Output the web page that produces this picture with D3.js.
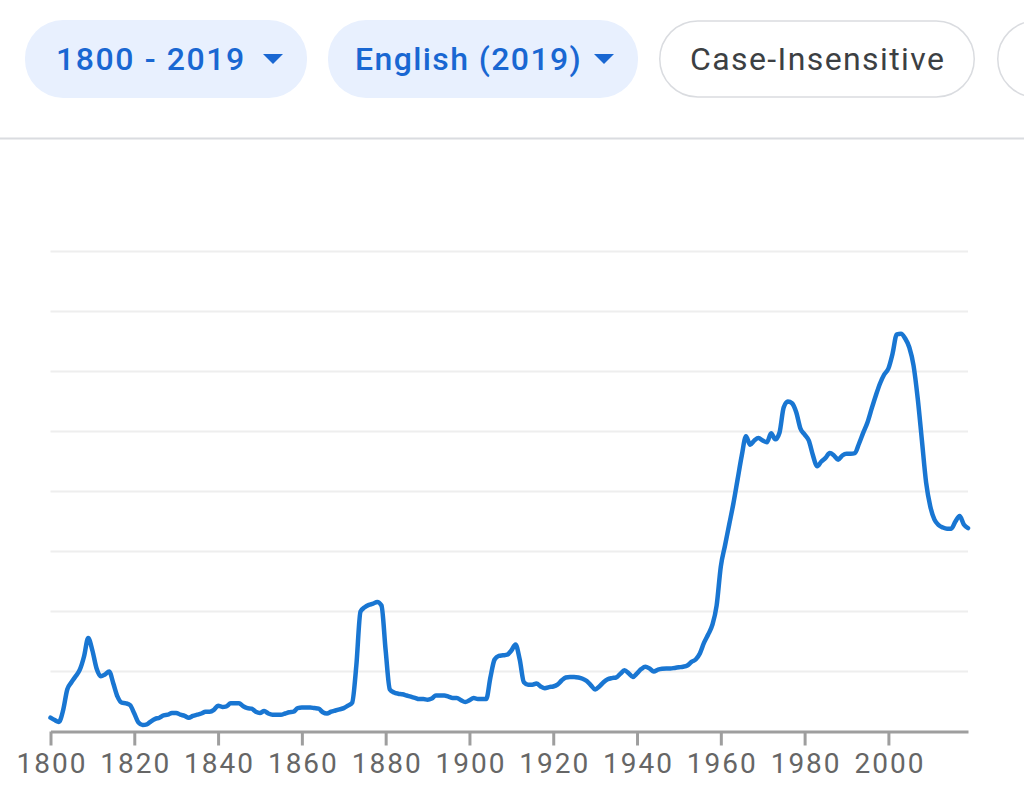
<!DOCTYPE html>
<html>
<head>
<meta charset="utf-8">
<script src="https://cdn.jsdelivr.net/npm/d3@7"></script>
<style>
  html, body { margin: 0; padding: 0; background: #fff; }
  svg { display: block; font-family: Roboto, "Noto Sans", sans-serif; }
</style>
</head>
<body>
<svg id="chart" width="1024" height="794"></svg>
<script>
// filter chips along the top
const chipLabels = ["1800 - 2019", "English (2019)", "Case-Insensitive", ""];
const chipActive = [true, true, false, false];

// x axis tick labels
const tickYears = [1800, 1820, 1840, 1860, 1880, 1900, 1920, 1940, 1960, 1980, 2000];

// yearly values, one per year from 1800 (unit = one gridline step)
const startYear = 1800;
const values = [
  0.23, 0.19, 0.16, 0.35, 0.70, 0.82, 0.92, 1.03, 1.25, 1.56,   // 1800s
  1.35, 1.05, 0.92, 0.95, 1.00, 0.80, 0.58, 0.48, 0.47, 0.44,   // 1810s
  0.30, 0.15, 0.11, 0.12, 0.17, 0.21, 0.23, 0.27, 0.28, 0.31,   // 1820s
  0.31, 0.28, 0.26, 0.23, 0.26, 0.28, 0.30, 0.33, 0.33, 0.36,   // 1830s
  0.43, 0.41, 0.42, 0.47, 0.47, 0.47, 0.42, 0.39, 0.38, 0.33,   // 1840s
  0.31, 0.34, 0.30, 0.28, 0.28, 0.28, 0.30, 0.32, 0.33, 0.39,   // 1850s
  0.40, 0.40, 0.40, 0.39, 0.38, 0.32, 0.30, 0.33, 0.35, 0.37,   // 1860s
  0.39, 0.43, 0.48, 1.10, 2.00, 2.07, 2.11, 2.13, 2.16, 2.10,   // 1870s
  1.35, 0.70, 0.65, 0.63, 0.62, 0.60, 0.58, 0.56, 0.54, 0.54,   // 1880s
  0.53, 0.55, 0.60, 0.60, 0.60, 0.58, 0.56, 0.56, 0.52, 0.49,   // 1890s
  0.52, 0.56, 0.54, 0.54, 0.54, 0.90, 1.20, 1.26, 1.27, 1.28,   // 1900s
  1.35, 1.45, 1.20, 0.82, 0.78, 0.78, 0.80, 0.75, 0.72, 0.74,   // 1910s
  0.75, 0.78, 0.85, 0.90, 0.91, 0.91, 0.90, 0.88, 0.84, 0.77,   // 1920s
  0.70, 0.75, 0.82, 0.87, 0.89, 0.90, 0.96, 1.02, 0.97, 0.91,   // 1930s
  0.97, 1.04, 1.08, 1.05, 1.00, 1.03, 1.045, 1.05, 1.05, 1.06,  // 1940s
  1.07, 1.08, 1.10, 1.16, 1.20, 1.30, 1.48, 1.62, 1.78, 2.10,   // 1950s
  2.75, 3.10, 3.45, 3.80, 4.20, 4.60, 4.92, 4.78, 4.85, 4.89,   // 1960s
  4.85, 4.82, 4.97, 4.87, 4.98, 5.40, 5.50, 5.47, 5.32, 5.05,   // 1970s
  4.95, 4.85, 4.60, 4.42, 4.50, 4.56, 4.64, 4.60, 4.53, 4.60,   // 1980s
  4.63, 4.63, 4.64, 4.80, 4.98, 5.15, 5.38, 5.60, 5.80, 5.95,   // 1990s
  6.05, 6.30, 6.62, 6.63, 6.55, 6.40, 6.10, 5.55, 4.85, 4.15,   // 2000s
  3.75, 3.53, 3.44, 3.40, 3.38, 3.38, 3.50, 3.59, 3.45, 3.39    // 2010s
];

const gridSteps = [1, 2, 3, 4, 5, 6, 7, 8];

const svg = d3.select("#chart");

// ---- chips ----
const chipX = [25, 328, 659, 997];
const chipW = [282, 310, 316, 120];
const chipPad = [31, 27, 31, 31];
const chipSpacing = [1.6, 1.4, 1.4, 0];
const chips = svg.append("g").attr("class", "chips");

chips.selectAll("rect")
  .data(chipLabels)
  .join("rect")
  .attr("x", (d, i) => chipX[i] + (chipActive[i] ? 0 : 0.75))
  .attr("y", (d, i) => chipActive[i] ? 20 : 21)
  .attr("width", (d, i) => chipW[i] - (chipActive[i] ? 0 : 1.5))
  .attr("height", (d, i) => chipActive[i] ? 78 : 76)
  .attr("rx", 38)
  .attr("fill", (d, i) => chipActive[i] ? "#e8f0fe" : "#fff")
  .attr("stroke", (d, i) => chipActive[i] ? "none" : "#dadce0")
  .attr("stroke-width", 1.5);

chips.selectAll("text")
  .data(chipLabels)
  .join("text")
  .attr("x", (d, i) => chipX[i] + chipPad[i])
  .attr("y", 70)
  .attr("font-size", 32)
  .attr("font-weight", (d, i) => chipActive[i] ? 500 : 400)
  .attr("letter-spacing", (d, i) => chipSpacing[i])
  .attr("fill", (d, i) => chipActive[i] ? "#1967d2" : "#3c4043")
  .text(d => d);

// dropdown arrows on the active chips
chips.selectAll("path.arrow")
  .data(chipLabels.filter((d, i) => chipActive[i]))
  .join("path")
  .attr("class", "arrow")
  .attr("d", (d, i) => {
    let ax = chipX[i] + chipW[i] - 44;
    return "M" + ax + ",54 L" + (ax + 20) + ",54 L" + (ax + 10) + ",64 Z";
  })
  .attr("fill", "#1967d2");

// separator under the chips
svg.append("line")
  .attr("x1", 0).attr("x2", 1024)
  .attr("y1", 138.5).attr("y2", 138.5)
  .attr("stroke", "#dadce0")
  .attr("stroke-width", 2);

// ---- chart ----
const years = values.map((v, i) => startYear + i);

let xScale = d3.scaleLinear()
  .domain([1800, 2019])
  .range([50.5, 968]);

let yScale = d3.scaleLinear()
  .domain([0, 8])
  .range([731.5, 251.5]);

// gridlines
svg.append("g")
  .selectAll("line")
  .data(gridSteps)
  .join("line")
  .attr("x1", xScale(1800))
  .attr("x2", xScale(2019))
  .attr("y1", d => yScale(d))
  .attr("y2", d => yScale(d))
  .attr("stroke", "#eeeeee")
  .attr("stroke-width", 2);

// x axis
let xAxis = d3.axisBottom(xScale)
  .tickValues(tickYears)
  .tickFormat(d3.format("d"))
  .tickSizeInner(14)
  .tickSizeOuter(0)
  .tickPadding(7.5);

let axisG = svg.append("g")
  .attr("transform", "translate(0," + yScale(0) + ")")
  .call(xAxis);

axisG.select(".domain")
  .attr("stroke", "#9e9e9e")
  .attr("stroke-width", 3);
axisG.selectAll(".tick line")
  .attr("stroke", "#9e9e9e")
  .attr("stroke-width", 3);
axisG.selectAll(".tick text")
  .attr("font-family", "Roboto, 'Noto Sans', sans-serif")
  .attr("font-size", 28)
  .attr("letter-spacing", 2)
  .attr("dx", 1)
  .attr("fill", "#666666");

// the series line
let lineGen = d3.line()
  .x((d, i) => xScale(years[i]))
  .y(d => yScale(d))
  .curve(d3.curveMonotoneX);

svg.append("path")
  .datum(values)
  .attr("d", lineGen)
  .attr("fill", "none")
  .attr("stroke", "#1976d2")
  .attr("stroke-width", 4.5)
  .attr("stroke-linejoin", "round")
  .attr("stroke-linecap", "round");
</script>
</body>
</html>
